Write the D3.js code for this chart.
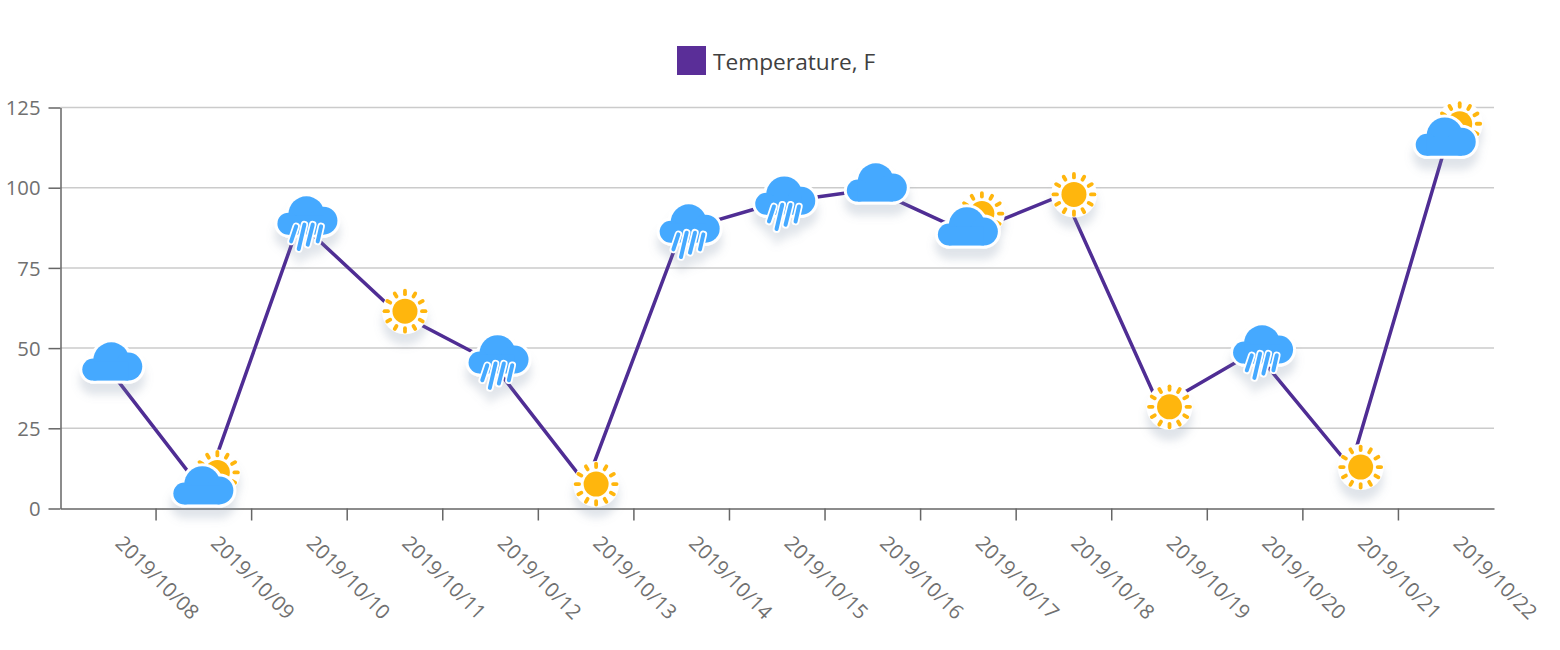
<!DOCTYPE html>
<html>
<head>
<meta charset="utf-8">
<script src="https://cdn.jsdelivr.net/npm/d3@7"></script>
<style>
    html, body { margin: 0; padding: 0; background: #fff; }
    text { font-family: "Open Sans", "Noto Sans", sans-serif; }
    .tick-label { fill: #707070; font-size: 20.3px; }
    .legend-label { fill: #404040; font-size: 22.7px; }
</style>
</head>
<body>
<div id="chart"></div>
<script>
const dates = [
    "2019/10/08", "2019/10/09", "2019/10/10", "2019/10/11", "2019/10/12",
    "2019/10/13", "2019/10/14", "2019/10/15", "2019/10/16", "2019/10/17",
    "2019/10/18", "2019/10/19", "2019/10/20", "2019/10/21", "2019/10/22"
];
const temperature = [43.7, 5.1, 89.2, 61.5, 45.9, 7.6, 86.7, 95.4, 99.5, 85.8, 97.9, 31.7, 49, 12.9, 113.8];
const weather = [
    "cloud", "partly", "rain", "sun", "rain", "sun", "rain", "rain",
    "cloud", "partly", "sun", "sun", "rain", "sun", "partly"
];
const yTicks = [0, 25, 50, 75, 100, 125];

const seriesName = "Temperature, F";
const lineColor = "#4f2d94";
const legendColor = "#5a2e98";
const cloudColor = "#45a9ff";
const sunColor = "#ffb60f";

const margin = {top: 107.5, right: 66, bottom: 141.5, left: 60.5};
const width = 1560 - margin.left - margin.right;
const height = 650 - margin.top - margin.bottom;

const root = d3.select("#chart").append("svg")
    .attr("width", 1560)
    .attr("height", 650)
    .style("display", "block");

// soft shadow under the weather icons, and a slight blur on the icon itself
const filter = root.append("defs").append("filter")
    .attr("id", "icon-shadow")
    .attr("x", "-40%").attr("y", "-40%")
    .attr("width", "180%").attr("height", "200%");
filter.append("feGaussianBlur")
    .attr("in", "SourceAlpha")
    .attr("stdDeviation", 4)
    .attr("result", "soft");
filter.append("feOffset")
    .attr("in", "soft")
    .attr("dy", 11)
    .attr("result", "moved");
filter.append("feFlood")
    .attr("flood-color", "#7d8fa6")
    .attr("flood-opacity", 0.24);
filter.append("feComposite")
    .attr("in2", "moved")
    .attr("operator", "in")
    .attr("result", "shadow");
filter.append("feGaussianBlur")
    .attr("in", "SourceGraphic")
    .attr("stdDeviation", 0.45)
    .attr("result", "icon");
const merge = filter.append("feMerge");
merge.append("feMergeNode").attr("in", "shadow");
merge.append("feMergeNode").attr("in", "icon");

const svg = root.append("g")
    .attr("transform", "translate(" + margin.left + "," + margin.top + ")");

const x = d3.scaleBand().domain(dates).range([0, width]);
const y = d3.scaleLinear().domain([0, 125]).range([height, 0]);

// Grid
svg.append("g").selectAll("line")
    .data(yTicks.slice(1))
    .enter().append("line")
    .attr("x1", 0)
    .attr("x2", width)
    .attr("y1", d => y(d))
    .attr("y2", d => y(d))
    .attr("stroke", "#cbcbcb")
    .attr("stroke-width", 1.5);

// Y axis
const yAxis = svg.append("g")
    .call(d3.axisLeft(y).tickValues(yTicks).tickSize(12).tickPadding(8).tickSizeOuter(0));
yAxis.select(".domain").attr("stroke", "#666").attr("stroke-width", 1.5);
yAxis.selectAll(".tick line").attr("stroke", "#666").attr("stroke-width", 1.5);
yAxis.selectAll("text").attr("class", "tick-label").attr("dy", "0.35em");

// X axis, labels at the band centre and ticks on the band edges
const xAxis = svg.append("g")
    .attr("transform", "translate(0," + height + ")")
    .call(d3.axisBottom(x).tickSize(0).tickSizeOuter(0));
xAxis.select(".domain").attr("stroke", "#666").attr("stroke-width", 1.5);
xAxis.selectAll("text")
    .attr("class", "tick-label")
    .attr("text-anchor", "start")
    .attr("dy", 0)
    .attr("x", 0)
    .attr("y", 0)
    .attr("transform", "translate(6,36) rotate(45)");
xAxis.append("g").selectAll("line")
    .data(dates.slice(1))
    .enter().append("line")
    .attr("x1", d => x(d))
    .attr("x2", d => x(d))
    .attr("y1", 0)
    .attr("y2", 12)
    .attr("stroke", "#666")
    .attr("stroke-width", 1.5);

// Line
const points = dates.map((d, i) => ({date: d, value: temperature[i], type: weather[i]}));
const line = d3.line()
    .x(d => x(d.date) + x.bandwidth() / 2)
    .y(d => y(d.value));
svg.append("path")
    .datum(points)
    .attr("fill", "none")
    .attr("stroke", lineColor)
    .attr("stroke-width", 3.5)
    .attr("d", line);

// Icon shapes, drawn around their own centre
function cloudShape(g, stroke) {
    const parts = g.append("g")
        .attr("fill", stroke || cloudColor)
        .attr("stroke", stroke || "none")
        .attr("stroke-width", stroke ? 6 : 0);
    parts.append("circle").attr("cx", -1).attr("cy", -1.3).attr("r", 18);
    parts.append("circle").attr("cx", -19).attr("cy", 8).attr("r", 11);
    parts.append("circle").attr("cx", 16).attr("cy", 5).attr("r", 14);
    parts.append("rect").attr("x", -19).attr("y", 0).attr("width", 35).attr("height", 19);
}

function drawCloud(g) {
    cloudShape(g, "#fff");
    cloudShape(g);
}

function drawSun(g, cx, cy) {
    const rays = d3.range(12).map(i => i * Math.PI / 6);
    const sun = g.append("g").attr("transform", "translate(" + cx + "," + cy + ")");
    sun.append("circle").attr("r", 23).attr("fill", "#fff");
    sun.append("circle").attr("r", 12.5).attr("fill", sunColor);
    sun.selectAll("line")
        .data(rays)
        .enter().append("line")
        .attr("x1", a => 17 * Math.cos(a))
        .attr("y1", a => 17 * Math.sin(a))
        .attr("x2", a => 20.5 * Math.cos(a))
        .attr("y2", a => 20.5 * Math.sin(a))
        .attr("stroke", sunColor)
        .attr("stroke-width", 3.8)
        .attr("stroke-linecap", "round");
}

function drawRain(g) {
    drawCloud(g);
    const drops = [[-11.3, 10.7, -16.3, 25.7], [-3, 9, -8.7, 33.3], [5.3, 9, 0.3, 29], [13.7, 10.7, 10.3, 25.7]];
    [["#fff", 7.5], [cloudColor, 4]].forEach(style => {
        g.append("g").selectAll("line")
            .data(drops)
            .enter().append("line")
            .attr("x1", d => d[0])
            .attr("y1", d => d[1])
            .attr("x2", d => d[2])
            .attr("y2", d => d[3])
            .attr("stroke", style[0])
            .attr("stroke-width", style[1])
            .attr("stroke-linecap", "round");
    });
}

const iconOffset = {
    cloud: [4, -6.7],
    rain: [8, -6.7],
    partly: [-0.5, -6.7],
    sun: [10, 0]
};

svg.append("g").selectAll("g")
    .data(points)
    .enter().append("g")
    .attr("filter", "url(#icon-shadow)")
    .attr("transform", d => "translate(" + (x(d.date) + x.bandwidth() / 2 + iconOffset[d.type][0]) + "," + (y(d.value) + iconOffset[d.type][1]) + ")")
    .each(function(d) {
        const g = d3.select(this);
        if (d.type === "cloud") drawCloud(g);
        if (d.type === "rain") drawRain(g);
        if (d.type === "sun") drawSun(g, 0, 0);
        if (d.type === "partly") {
            drawSun(g, 14, -13);
            drawCloud(g);
        }
    });

// Legend
const legend = root.append("g");
legend.append("rect")
    .attr("x", 677)
    .attr("y", 46)
    .attr("width", 29)
    .attr("height", 29)
    .attr("fill", legendColor);
legend.append("text")
    .attr("class", "legend-label")
    .attr("x", 713)
    .attr("y", 70)
    .text(seriesName);
</script>
</body>
</html>
